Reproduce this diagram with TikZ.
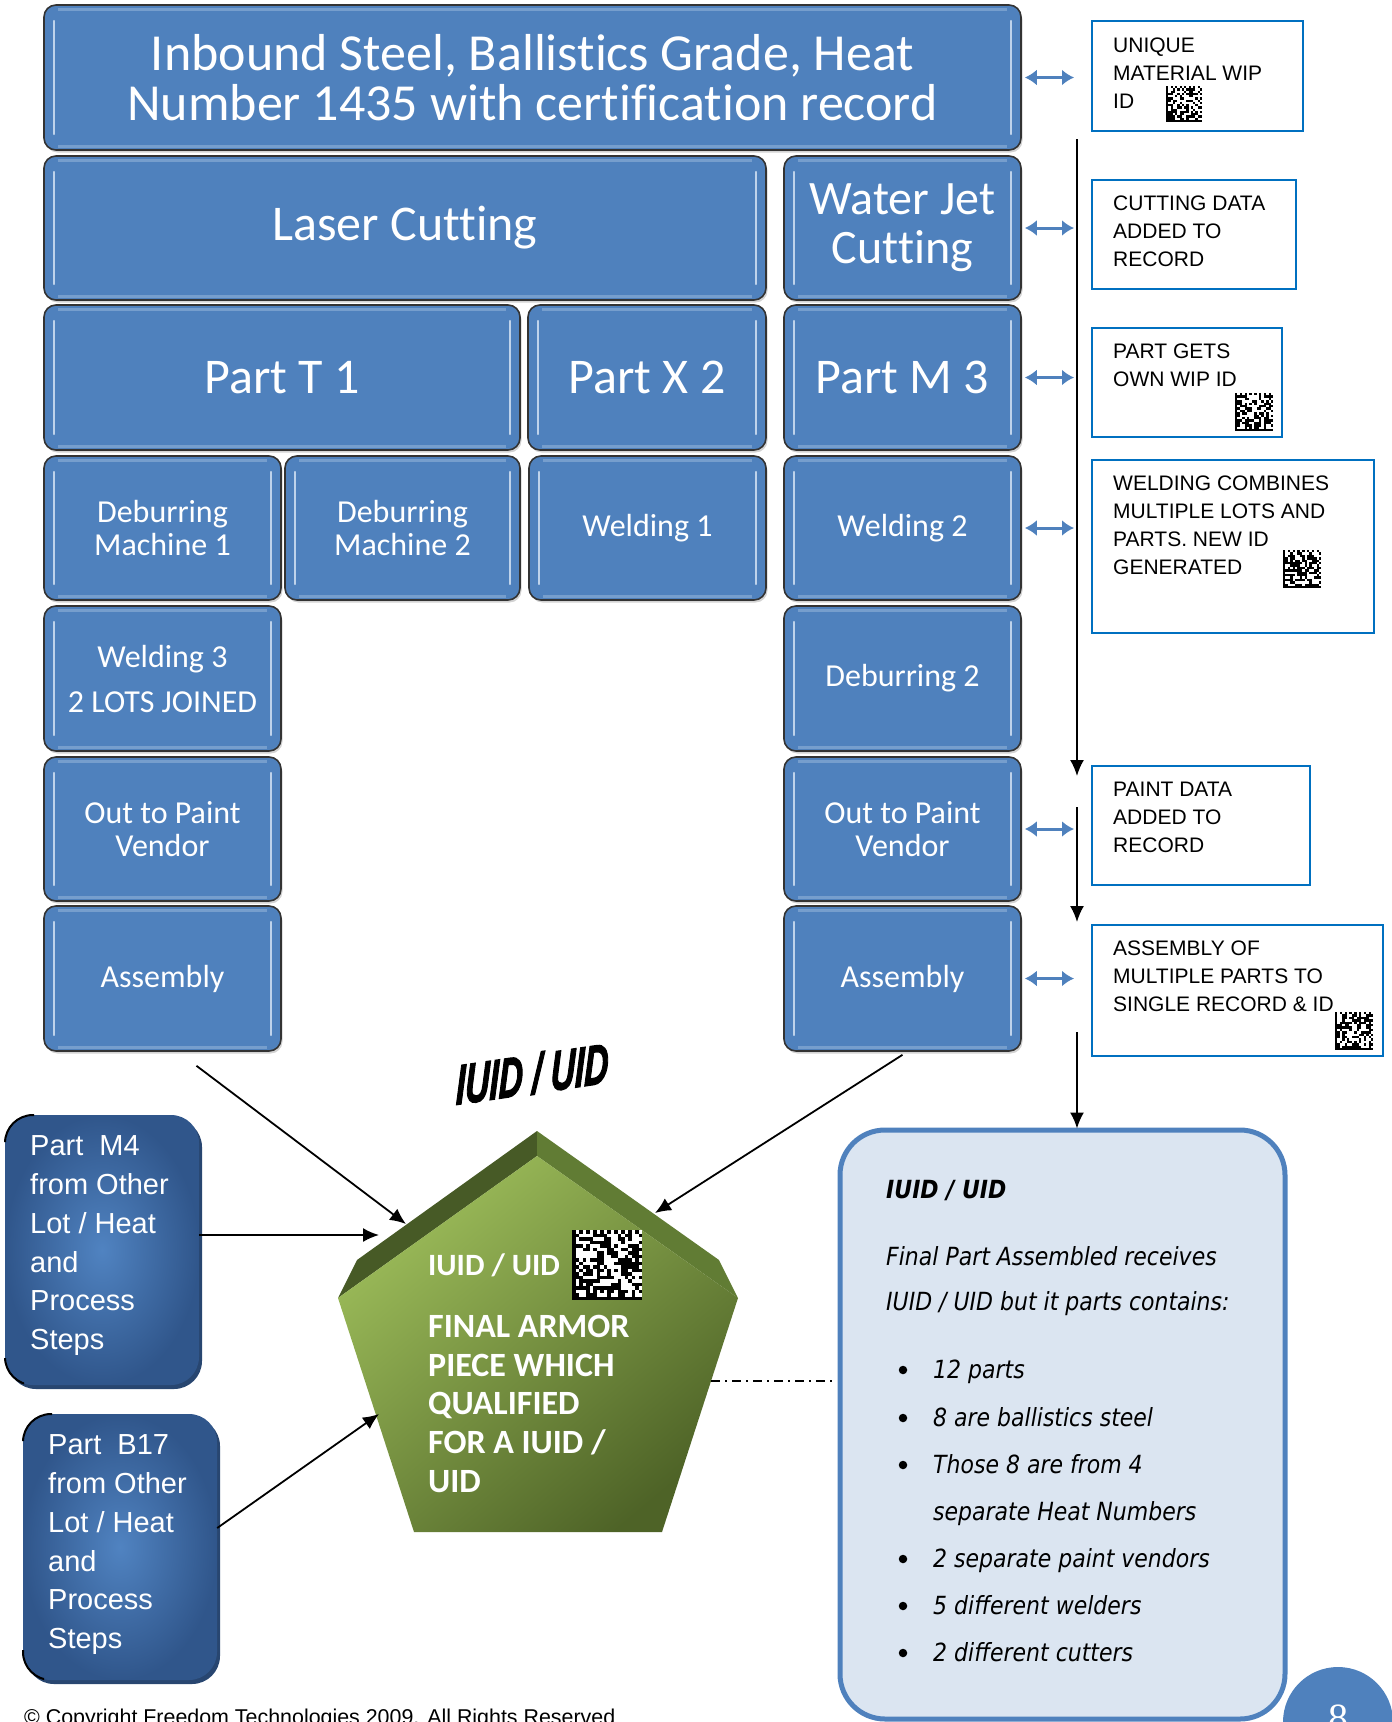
\documentclass[tikz,border=0pt]{standalone}
\usepackage{fontspec}
\setmainfont{Liberation Sans}
\newfontfamily\calib[Ligatures={NoCommon,NoContextual}]{Carlito}
\newfontfamily\tah[FakeStretch=0.88]{DejaVu Sans}
\newfontfamily\numserif{Liberation Serif}
\newfontfamily\wordartfont[FakeBold=2.5,FakeSlant=0.12]{Liberation Sans}
\usetikzlibrary{arrows.meta,shadows}

\definecolor{boxblue}{HTML}{4F81BD}
\definecolor{hilite}{HTML}{D3E2F4}
\definecolor{annblue}{HTML}{0070C0}
\definecolor{notefill}{HTML}{DBE5F1}
\definecolor{greenlight}{HTML}{9DBD5A}
\definecolor{greendark}{HTML}{4E6327}
\definecolor{bevelL}{HTML}{475A26}
\definecolor{bevelR}{HTML}{617C34}
\definecolor{navyin}{HTML}{5083C1}
\definecolor{navyout}{HTML}{30568B}
\definecolor{navyshadow}{HTML}{284670}

% data-matrix style code: top-left x, top-left y, module size, modules per side, seed
\newcommand\drawmatrixcode[5]{%
  \begin{scope}[shift={(#1,#2)}]
    \pgfmathsetseed{#5}
    \pgfmathtruncatemacro\dmlast{#4-1}
    \fill[white] (0,0) rectangle (#4*#3,#4*#3);
    \foreach \i in {0,...,\dmlast}{
      \foreach \j in {0,...,\dmlast}{
        \pgfmathrandominteger{\dmv}{0}{1}
        \ifnum\j=0 \pgfmathtruncatemacro\dmv{1-mod(\i,2)}\fi
        \ifnum\i=\dmlast \pgfmathtruncatemacro\dmv{1-mod(\dmlast-\j,2)}\fi
        \ifnum\i=0 \def\dmv{1}\fi
        \ifnum\j=\dmlast \def\dmv{1}\fi
        \ifnum\dmv=1 \fill[black] (\i*#3,\j*#3) rectangle ++(#3,#3);\fi
      }}
  \end{scope}}

\begin{document}
\begin{tikzpicture}[x=1pt,y=-1pt,
  procbox/.style={rounded corners=12pt, fill=boxblue, draw=black!80, line width=1.6pt,
    inner sep=0pt, text=white, align=center,
    font=\calib\fontsize{32}{33}\selectfont,
    drop shadow={shadow xshift=1.5pt, shadow yshift=-2.5pt, opacity=.35},
    path picture={
      \draw[hilite, line width=2.2pt, line cap=round, opacity=.85]
        ([xshift=10pt,yshift=-16pt]path picture bounding box.north west) --
        ([xshift=10pt,yshift=16pt]path picture bounding box.south west);
      \draw[hilite, line width=2.2pt, line cap=round, opacity=.85]
        ([xshift=-10pt,yshift=-16pt]path picture bounding box.north east) --
        ([xshift=-10pt,yshift=16pt]path picture bounding box.south east);
      \draw[hilite, line width=3pt, opacity=.3]
        ([xshift=14pt,yshift=-4pt]path picture bounding box.north west) --
        ([xshift=-14pt,yshift=-4pt]path picture bounding box.north east);
      \draw[hilite, line width=3pt, opacity=.3]
        ([xshift=14pt,yshift=4pt]path picture bounding box.south west) --
        ([xshift=-14pt,yshift=4pt]path picture bounding box.south east);
    }},
  annbox/.style={draw=annblue, line width=2.4pt, fill=white, inner sep=0pt, anchor=north west},
  anntext/.style={font=\fontsize{21}{28}\selectfont, align=left, inner sep=0pt,
    anchor=north west, text=black},
  dblarrow/.style={draw=boxblue, line width=3pt,
    {Latex[length=12pt,width=16pt]}-{Latex[length=12pt,width=16pt]}},
  flow/.style={draw=black, line width=1.8pt, -{Latex[length=16pt,width=14pt]}},
  navybox/.style={rounded corners=28pt, inner color=navyin, outer color=navyout,
    inner sep=0pt,
    drop shadow={shadow xshift=3pt, shadow yshift=-4pt, fill=navyshadow, opacity=1}},
  navytext/.style={text=white, font=\fontsize{29}{38.8}\selectfont, align=left,
    inner sep=0pt, anchor=north west},
  notebox/.style={draw=boxblue, line width=5pt, fill=notefill, rounded corners=45pt,
    inner sep=0pt},
  notetext/.style={font=\tah\itshape\fontsize{25}{30}\selectfont, anchor=mid west,
    inner sep=0pt},
  bulletdot/.style={circle, fill=black, inner sep=0pt, minimum size=8.5pt},
  armortext/.style={text=white, font=\calib\bfseries\fontsize{34}{38.7}\selectfont,
    align=left, inner sep=0pt},
]
\useasboundingbox (0,0) rectangle (1392,1722);
\clip (0,0) rectangle (1392,1722);

% ---------- process boxes ----------
\node[procbox, minimum width=977pt, minimum height=145pt,
  font=\calib\fontsize{52}{50}\selectfont] (inbound) at (532.5,77.5)
  {Inbound Steel, Ballistics Grade, Heat\\Number 1435 with certification record};
\node[procbox, minimum width=722pt, minimum height=144pt,
  font=\calib\fontsize{50}{50}\selectfont] (laser) at (405,228) {Laser Cutting};
\node[procbox, minimum width=237pt, minimum height=144pt,
  font=\calib\fontsize{48}{49}\selectfont] (water) at (902.5,228) {Water Jet\\Cutting};

\node[procbox, minimum width=476pt, minimum height=145pt,
  font=\calib\fontsize{50}{50}\selectfont] (partT) at (282,377.5) {Part T 1};
\node[procbox, minimum width=238pt, minimum height=145pt,
  font=\calib\fontsize{50}{50}\selectfont] (partX) at (647,377.5) {Part X 2};
\node[procbox, minimum width=237pt, minimum height=145pt,
  font=\calib\fontsize{50}{50}\selectfont] (partM) at (902.5,377.5) {Part M 3};

\node[procbox, minimum width=237pt, minimum height=144pt] (deb1) at (162.5,528) {Deburring\\Machine 1};
\node[procbox, minimum width=235pt, minimum height=144pt] (deb2) at (402.5,528) {Deburring\\Machine 2};
\node[procbox, minimum width=237pt, minimum height=144pt] (weld1) at (647.5,528) {Welding 1};
\node[procbox, minimum width=237pt, minimum height=144pt] (weld2) at (902.5,528) {Welding 2};

\node[procbox, minimum width=237pt, minimum height=145pt,
  font=\calib\fontsize{32}{45}\selectfont] (weld3) at (162.5,678.5) {Welding 3\\2 LOTS JOINED};
\node[procbox, minimum width=237pt, minimum height=145pt] (debR) at (902.5,678.5) {Deburring 2};

\node[procbox, minimum width=237pt, minimum height=144pt] (paintL) at (162.5,829) {Out to Paint\\Vendor};
\node[procbox, minimum width=237pt, minimum height=144pt] (paintR) at (902.5,829) {Out to Paint\\Vendor};

\node[procbox, minimum width=237pt, minimum height=145pt] (asmL) at (162.5,978.5) {Assembly};
\node[procbox, minimum width=237pt, minimum height=145pt] (asmR) at (902.5,978.5) {Assembly};

% ---------- record annotations ----------
\node[annbox, minimum width=211pt, minimum height=110pt] (a1) at (1091,20) {};
\node[annbox, minimum width=204pt, minimum height=109pt] (a2) at (1091,179) {};
\node[annbox, minimum width=190pt, minimum height=109pt] (a3) at (1091,327) {};
\node[annbox, minimum width=282pt, minimum height=173pt] (a4) at (1091,459) {};
\node[annbox, minimum width=218pt, minimum height=119pt] (a5) at (1091,765) {};
\node[annbox, minimum width=291pt, minimum height=131pt] (a6) at (1091,924) {};

\node[anntext] (a1t) at ([xshift=22pt,yshift=-17.5pt]a1.north west) {UNIQUE\\MATERIAL WIP\\ID};
\node[anntext] (a2t) at ([xshift=22pt,yshift=-17pt]a2.north west) {CUTTING DATA\\ADDED TO\\RECORD};
\node[anntext] (a3t) at ([xshift=22pt,yshift=-17pt]a3.north west) {PART GETS\\OWN WIP ID};
\node[anntext] (a4t) at ([xshift=22pt,yshift=-17pt]a4.north west) {WELDING COMBINES\\MULTIPLE LOTS AND\\PARTS. NEW ID\\GENERATED};
\node[anntext] (a5t) at ([xshift=22pt,yshift=-17pt]a5.north west) {PAINT DATA\\ADDED TO\\RECORD};
\node[anntext] (a6t) at ([xshift=22pt,yshift=-17pt]a6.north west) {ASSEMBLY OF\\MULTIPLE PARTS TO\\SINGLE RECORD \& ID};

\drawmatrixcode{1166}{86}{2.25}{16}{11}
\drawmatrixcode{1235}{393}{2.4}{16}{23}
\drawmatrixcode{1283}{550}{2.4}{16}{37}
\drawmatrixcode{1335}{1012}{2.4}{16}{41}

% ---------- links between steps and records ----------
\draw[dblarrow] ([xshift=3pt]inbound.east) -- ([xshift=-17pt]a1.west |- inbound.east);
\draw[dblarrow] ([xshift=3pt]water.east) -- ([xshift=-17pt]a2.west |- water.east);
\draw[dblarrow] ([xshift=3pt]partM.east) -- ([xshift=-17pt]a3.west |- partM.east);
\draw[dblarrow] ([xshift=3pt]weld2.east) -- ([xshift=-17pt]a4.west |- weld2.east);
\draw[dblarrow] ([xshift=3pt]paintR.east) -- ([xshift=-17pt]a5.west |- paintR.east);
\draw[dblarrow] ([xshift=3pt]asmR.east) -- ([xshift=-17pt]a6.west |- asmR.east);

% ---------- record timeline ----------
\coordinate (v1s) at (1077,139);
\coordinate (v1e) at (1077,776);
\coordinate (v2s) at (1077,807);
\coordinate (v2e) at (1077,922);
\coordinate (v3s) at (1077,1032);
\draw[flow] (v1s) -- (v1e);
\draw[flow] (v2s) -- (v2e);

% ---------- summary note ----------
\node[notebox, minimum width=445pt, minimum height=589pt] (note) at (1062.5,1424.5) {};
\draw[flow] (v3s) -- ([yshift=-1pt]note.north -| v3s);

\node[notetext, font=\tah\bfseries\itshape\fontsize{25}{30}\selectfont] (n0) at (886,1196) {IUID / UID};
\node[notetext] (n1) at (886,1263) {Final Part Assembled receives};
\node[notetext] (n2) at (886,1308) {IUID / UID but it parts contains:};
\foreach \yy/\tt [count=\k] in {1376/12 parts, 1424/8 are ballistics steel,
    1471/Those 8 are from 4, 1565/2 separate paint vendors,
    1612/5 different welders, 1659/2 different cutters}{
  \node[bulletdot] (nb\k) at (903,\yy-6) {};
  \node[notetext] (ni\k) at (933,\yy) {\tt};
}
\node[notetext] (ni3b) at (933,1518) {separate Heat Numbers};

% ---------- final armour pentagon ----------
\coordinate (pgA) at (537,1131);
\coordinate (pgLs) at (357,1260);
\coordinate (pgRs) at (719,1260);
\coordinate (pgL) at (338,1298);
\coordinate (pgR) at (738,1298);
\coordinate (pgI) at (537,1156);
\coordinate (pgBL) at (414,1532);
\coordinate (pgBR) at (662,1532);
\fill[bevelL] (pgA) -- (pgLs) -- (pgL) -- (pgI) -- cycle;
\fill[bevelR] (pgA) -- (pgRs) -- (pgR) -- (pgI) -- cycle;
\shade[top color=greenlight, bottom color=greendark, shading angle=40]
  (pgI) -- (pgL) -- (pgBL) -- (pgBR) -- (pgR) -- cycle;

\node[armortext, anchor=west, font=\calib\bfseries\fontsize{31}{38.7}\selectfont]
  (armid) at (428,1265) {IUID / UID};
\drawmatrixcode{572}{1230}{3.5}{20}{57}
\node[armortext, anchor=north west] (armtxt) at (428,1315)
  {FINAL ARMOR\\PIECE WHICH\\QUALIFIED\\FOR A IUID /\\UID};

\node[font=\wordartfont\bfseries\itshape\fontsize{56}{56}\selectfont, xscale=0.6, rotate=5,
  inner sep=0pt] (wordart) at (531,1074) {IUID / UID};

% ---------- parts from other lots ----------
\node[navybox, minimum width=194pt, minimum height=270pt] (m4) at (102,1250) {};
\node[navybox, minimum width=194pt, minimum height=266pt] (b17) at (120,1547) {};
\begin{scope}
  \clip (0,1108) rectangle (34,1142) (0,1358) rectangle (24,1392);
  \draw[black, line width=2pt, rounded corners=28pt] (5,1115) rectangle (199,1385);
\end{scope}
\begin{scope}
  \clip (18,1407) rectangle (52,1441) (18,1650) rectangle (44,1687);
  \draw[black, line width=2pt, rounded corners=28pt] (23,1414) rectangle (217,1680);
\end{scope}
\node[navytext] (m4t) at (30,1135.5) {Part~ M4\\from Other\\Lot / Heat\\and\\Process\\Steps};
\node[navytext] (b17t) at (48,1434.5) {Part~ B17\\from Other\\Lot / Heat\\and\\Process\\Steps};

% ---------- flows into the final piece ----------
\coordinate (t1) at (406,1224);
\coordinate (t2) at (379,1235);
\coordinate (t3) at (379,1414);
\coordinate (t4) at (655,1213);
\draw[flow] ([xshift=34pt,yshift=-14pt]asmL.south) -- (t1);
\draw[flow] (m4.east |- t2) -- (t2);
\draw[flow] ([yshift=19pt]b17.east) -- (t3);
\draw[flow] ([yshift=-3pt]asmR.south) -- (t4);
\coordinate (dd) at (711,1381);
\draw[black, line width=1.4pt, dash pattern=on 9pt off 5pt on 2pt off 5pt]
  (dd) -- ([xshift=-2pt]note.west |- dd);

% ---------- footer ----------
\node[font=\fontsize{21.4}{21.4}\selectfont, anchor=base west, inner sep=0pt] (copy)
  at (24,1724) {© Copyright Freedom Technologies 2009.  All Rights Reserved};
\fill[boxblue] (1338,1722) circle (55pt);
\node[font=\numserif\fontsize{40}{40}\selectfont, text=white, anchor=base,
  inner sep=0pt] (pagenum) at (1338,1731) {8};
\end{tikzpicture}
\end{document}
